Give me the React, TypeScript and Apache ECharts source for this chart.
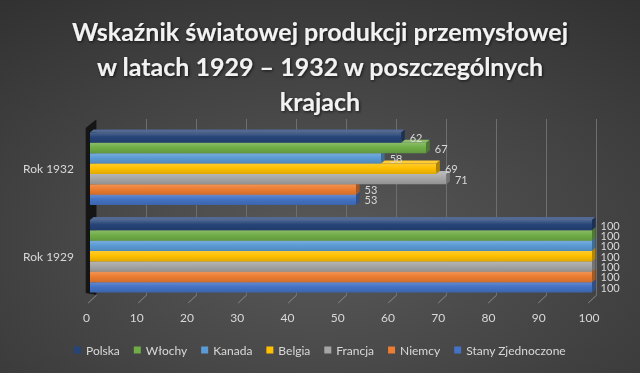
import React, { useEffect, useRef } from 'react';
import * as echarts from 'echarts';

const CATEGORIES = ['Rok 1929', 'Rok 1932'];
const SERIES_NAMES = ['Polska', 'Włochy', 'Kanada', 'Belgia', 'Francja', 'Niemcy', 'Stany Zjednoczone'];
const COLORS = ['#264478', '#70AD47', '#5B9BD5', '#FFC000', '#A5A5A5', '#ED7D31', '#4472C4'];
// values per series: [Rok 1929, Rok 1932]
const POLSKA = [100, 62];
const WLOCHY = [100, 67];
const KANADA = [100, 58];
const BELGIA = [100, 69];
const FRANCJA = [100, 71];
const NIEMCY = [100, 53];
const STANY = [100, 53];
const VALUES = [POLSKA, WLOCHY, KANADA, BELGIA, FRANCJA, NIEMCY, STANY];
const X_TICKS = [0, 10, 20, 30, 40, 50, 60, 70, 80, 90, 100];
const TITLE = 'Wskaźnik światowej produkcji przemysłowej\nw latach 1929 – 1932 w poszczególnych\nkrajach';

const FONT = 'Lato, "Open Sans", sans-serif';
const LABEL_COLOR = '#d9d9d9';
const GAP = 0.171;
const DX = 3.5;
const DY = 3;

function shade(hex: string, amt: number): string {
  const n = parseInt(hex.slice(1), 16);
  const r = (n >> 16) & 255, g = (n >> 8) & 255, b = n & 255;
  const f = (c: number) => (amt >= 0 ? Math.round(c + (255 - c) * amt) : Math.round(c * (1 + amt)));
  return `rgb(${f(r)},${f(g)},${f(b)})`;
}

export default function App() {
  const ref = useRef<HTMLDivElement>(null);
  useEffect(() => {
    if (!ref.current) return;
    const chart = echarts.init(ref.current, undefined, { renderer: 'svg' });
    const n = SERIES_NAMES.length;

    const barSeries = SERIES_NAMES.map((name, pos) => ({ name, pos, color: COLORS[pos], values: VALUES[pos] }))
      .reverse()
      .map(({ name, pos, color, values }) => ({
        type: 'custom',
        name,
        xAxisIndex: 0,
        yAxisIndex: 0,
        itemStyle: { color },
        encode: { x: 0, y: 1 },
        data: values.map((v, i) => [v, i]),
        renderItem: (params: any, api: any) => {
          const v = api.value(0);
          const cat = api.value(1);
          const base = api.coord([0, cat]);
          const end = api.coord([v, cat]);
          const band = api.size([0, 1])[1];
          const groupH = band * (1 - GAP);
          const barH = groupH / n;
          const y0 = base[1] - groupH / 2 + pos * barH;
          const x0 = base[0];
          const x1 = end[0];
          return {
            type: 'group',
            children: [
              {
                type: 'polygon',
                shape: { points: [[x0, y0], [x1, y0], [x1 + DX, y0 - DY], [x0 + DX, y0 - DY]] },
                style: { fill: shade(color, 0.2) },
              },
              {
                type: 'rect',
                shape: { x: x0, y: y0, width: x1 - x0, height: barH },
                style: {
                  fill: new echarts.graphic.LinearGradient(0, 0, 0, 1, [
                    { offset: 0, color: shade(color, 0.18) },
                    { offset: 0.45, color: color },
                    { offset: 1, color: shade(color, -0.12) },
                  ]),
                },
              },
              {
                type: 'polygon',
                shape: { points: [[x1, y0], [x1 + DX, y0 - DY], [x1 + DX, y0 + barH - DY], [x1, y0 + barH]] },
                style: { fill: shade(color, -0.3) },
              },
              {
                type: 'text',
                style: {
                  text: String(v),
                  x: x1 + DX + 5,
                  y: y0 + barH / 2,
                  align: 'left',
                  verticalAlign: 'middle',
                  fill: LABEL_COLOR,
                  fontSize: 11,
                  fontFamily: FONT,
                },
              },
            ],
          };
        },
      }));

    const wallSeries = {
      type: 'custom',
      xAxisIndex: 1,
      yAxisIndex: 1,
      silent: true,
      data: [[0, 0]],
      renderItem: (params: any, api: any) => {
        const bot = api.coord([api.value(0), 0]);
        const top = api.coord([api.value(0), 1]);
        return {
          type: 'polygon',
          shape: {
            points: [
              [top[0], top[1]],
              [bot[0], bot[1]],
              [bot[0] - 11, bot[1] - 2],
              [top[0] - 11, top[1] + 9],
            ],
          },
          style: { fill: '#151515' },
        };
      },
    };

    const slashSeries = {
      type: 'custom',
      xAxisIndex: 1,
      yAxisIndex: 1,
      silent: true,
      data: X_TICKS.map((t) => [t, 0]),
      renderItem: (params: any, api: any) => {
        const p = api.coord([api.value(0), 0]);
        return {
          type: 'line',
          shape: { x1: p[0], y1: p[1], x2: p[0] - 8.5, y2: p[1] + 8 },
          style: { stroke: '#8a8a8a', lineWidth: 1 },
        };
      },
    };

    chart.setOption({
      animation: false,
      backgroundColor: {
        type: 'radial',
        x: 0.5,
        y: 0.65,
        r: 1.05,
        colorStops: [
          { offset: 0, color: '#595959' },
          { offset: 1, color: '#262626' },
        ],
      },
      textStyle: { fontFamily: FONT },
      title: {
        text: TITLE,
        left: 'center',
        top: 8,
        textStyle: {
          color: '#f2f2f2',
          fontSize: 25,
          fontWeight: 'bold',
          fontFamily: FONT,
          lineHeight: 35,
          textShadowColor: 'rgba(0,0,0,0.7)',
          textShadowBlur: 3,
          textShadowOffsetX: 1,
          textShadowOffsetY: 1,
        },
      },
      legend: {
        data: SERIES_NAMES,
        left: 'center',
        top: 339,
        icon: 'rect',
        itemWidth: 7,
        itemHeight: 7,
        itemGap: 14,
        textStyle: { color: LABEL_COLOR, fontSize: 12, fontFamily: FONT },
      },
      grid: [
        { left: 90, right: 48, top: 125, height: 175 },
        { left: 96.7, right: 43.3, top: 119, height: 176 },
        { left: 86.5, right: 51, top: 125, height: 178 },
      ],
      xAxis: [
        { gridIndex: 0, type: 'value', min: 0, max: 100, interval: 10, show: false },
        {
          gridIndex: 1,
          type: 'value',
          min: 0,
          max: 100,
          interval: 10,
          axisLabel: { show: false },
          axisLine: { show: false },
          axisTick: { show: false },
          splitLine: { show: true, lineStyle: { color: '#6e6e6e', width: 1 } },
        },
        {
          gridIndex: 2,
          type: 'value',
          min: 0,
          max: 100,
          interval: 10,
          axisLine: { show: false },
          axisTick: { show: false },
          splitLine: { show: false },
          axisLabel: { color: LABEL_COLOR, fontSize: 12, margin: 8.5, fontFamily: FONT },
        },
      ],
      yAxis: [
        {
          gridIndex: 0,
          type: 'category',
          data: CATEGORIES,
          axisLine: { show: false },
          axisTick: { show: false },
          splitLine: { show: false },
          axisLabel: { color: LABEL_COLOR, fontSize: 12, margin: 16, fontFamily: FONT, padding: [6, 0, 0, 0] },
        },
        { gridIndex: 1, type: 'value', min: 0, max: 1, show: false, splitLine: { show: false } },
        { gridIndex: 2, type: 'value', min: 0, max: 1, show: false, splitLine: { show: false } },
      ],
      series: [wallSeries, slashSeries, ...barSeries],
    });
    return () => chart.dispose();
  }, []);
  return <div ref={ref} style={{ position: 'fixed', left: 0, top: 0, width: 640, height: 373 }} />;
}
